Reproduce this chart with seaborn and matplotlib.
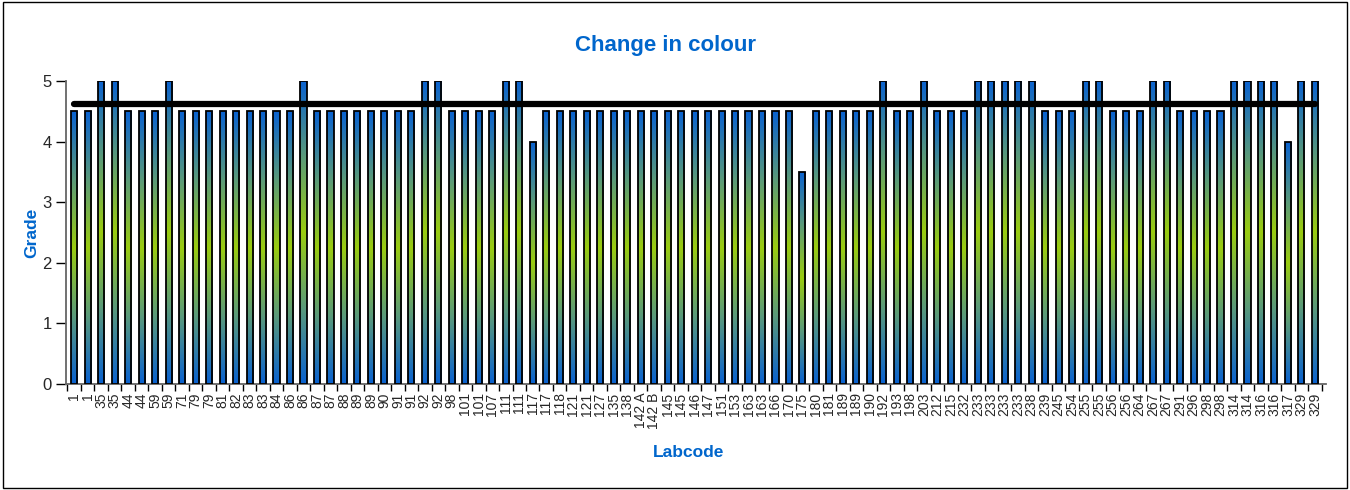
import numpy as np
import pandas as pd
import matplotlib
matplotlib.use("Agg")
import matplotlib.pyplot as plt
from matplotlib.colors import LinearSegmentedColormap
from matplotlib.patches import Rectangle
import seaborn as sns

labcodes = ["1", "1", "35", "35", "44", "44", "59", "59", "71", "79", "79", "81", "82", "83", "83",
            "84", "86", "86", "87", "87", "88", "89", "89", "90", "91", "91", "92", "92", "98", "101",
            "101", "107", "111", "111", "117", "117", "118", "121", "121", "127", "135", "138",
            "142 A", "142 B", "145", "145", "146", "147", "151", "153", "163", "163", "166", "170",
            "175", "180", "181", "189", "189", "190", "192", "193", "198", "203", "212", "215", "232",
            "233", "233", "233", "233", "238", "239", "245", "254", "255", "255", "256", "256", "264",
            "267", "267", "291", "296", "298", "298", "314", "314", "316", "316", "317", "329", "329"]
grades = [4.5, 4.5, 5, 5, 4.5, 4.5, 4.5, 5, 4.5, 4.5, 4.5, 4.5, 4.5, 4.5, 4.5,
          4.5, 4.5, 5, 4.5, 4.5, 4.5, 4.5, 4.5, 4.5, 4.5, 4.5, 5, 5, 4.5, 4.5,
          4.5, 4.5, 5, 5, 4, 4.5, 4.5, 4.5, 4.5, 4.5, 4.5, 4.5,
          4.5, 4.5, 4.5, 4.5, 4.5, 4.5, 4.5, 4.5, 4.5, 4.5, 4.5, 4.5,
          3.5, 4.5, 4.5, 4.5, 4.5, 4.5, 5, 4.5, 4.5, 5, 4.5, 4.5, 4.5,
          5, 5, 5, 5, 5, 4.5, 4.5, 4.5, 5, 5, 4.5, 4.5, 4.5,
          5, 5, 4.5, 4.5, 4.5, 4.5, 5, 5, 5, 5, 4, 5, 5]

TITLE = "Change in colour"
XLABEL = "Labcode"
YLABEL = "Grade"

df = pd.DataFrame({"pos": [str(i) for i in range(len(labcodes))], "grade": grades})

sns.set_theme(style="white")
plt.rcParams["font.family"] = ["Liberation Sans", "DejaVu Sans"]

fig = plt.figure(figsize=(13.5, 4.9), dpi=100)
ax = fig.add_axes([0.049, 0.216, 0.933, 0.619])

sns.barplot(data=df, x="pos", y="grade", ax=ax, width=0.45, color="#0066CC",
            edgecolor="black", linewidth=1.3, errorbar=None, zorder=2)

cmap = LinearSegmentedColormap.from_list("g", ["#0A62D0", "#5A9A7A", "#9ACC10", "#5A9A7A", "#0A62D0"])
grad = np.linspace(0, 1, 256).reshape(-1, 1)
for p in list(ax.patches):
    x0, y0 = p.get_x(), p.get_y()
    w, h = p.get_width(), p.get_height()
    im = ax.imshow(grad, cmap=cmap, aspect="auto", extent=[x0, x0 + w, y0, y0 + h],
                   origin="lower", zorder=2.5)
    im.set_clip_path(p)
    p.set_facecolor("none")
    p.set_zorder(3)

mean_val = float(np.mean(grades))
ax.plot([0, len(grades) - 1], [mean_val, mean_val], color="black", lw=4.5, zorder=4,
        solid_capstyle="round")

ax.set_xlim(-0.6, len(grades) - 0.2)
ax.set_ylim(0, 5)
ax.set_yticks([0, 1, 2, 3, 4, 5])
ax.set_xticks(range(len(labcodes)))
ax.set_xticklabels(labcodes, rotation=90, fontsize=10)
ax.tick_params(axis="x", which="major", length=0, pad=6)
ax.set_xticks(np.arange(-0.5, len(labcodes), 1.0), minor=True)
ax.tick_params(axis="x", which="minor", length=5, width=1, color="black", direction="out", bottom=True)
ax.tick_params(axis="y", length=7, width=1, color="black", direction="out", left=True, labelsize=12)

for s in ["top", "right"]:
    ax.spines[s].set_visible(False)
for s in ["left", "bottom"]:
    ax.spines[s].set_color("#666666")
    ax.spines[s].set_linewidth(1.3)

fig.text(0.4926, 1 - 46 / 490, TITLE, fontsize=16, fontweight="bold", color="#0066CC",
         ha="center", va="center")
ax.set_xlabel(XLABEL, fontsize=12.5, fontweight="bold", color="#0066CC")
ax.xaxis.set_label_coords(0.494, -0.2)
ax.set_ylabel(YLABEL, fontsize=12.5, fontweight="bold", color="#0066CC")
ax.yaxis.set_label_coords(-0.021, 0.5)

fig.patches.append(Rectangle((0.002, 0.004), 0.996, 0.992, transform=fig.transFigure,
                             fill=False, edgecolor="black", linewidth=1))

fig.savefig("out.png", dpi=100)
